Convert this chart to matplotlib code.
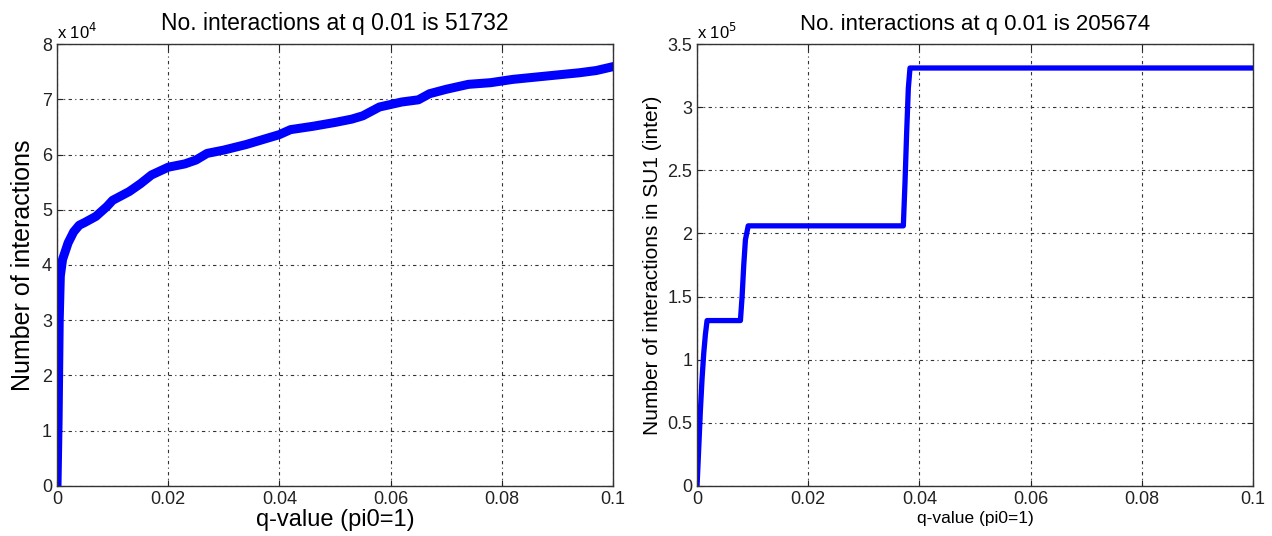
import matplotlib
matplotlib.use("Agg")
import matplotlib.pyplot as plt
from matplotlib.ticker import FuncFormatter

plt.rcParams['font.family'] = ['Liberation Sans', 'DejaVu Sans']

# left panel: cumulative interactions vs q-value
q_left = [0.0, 0.0002, 0.0004, 0.0006, 0.001, 0.002, 0.003, 0.004, 0.005,
          0.007, 0.009, 0.010, 0.013, 0.015, 0.017, 0.020, 0.023, 0.025,
          0.027, 0.030, 0.034, 0.038, 0.040, 0.042, 0.046, 0.050, 0.053,
          0.055, 0.058, 0.062, 0.065, 0.067, 0.070, 0.074, 0.078, 0.082,
          0.086, 0.090, 0.094, 0.097, 0.100]
n_left = [0, 12000, 30000, 38000, 41000, 44000, 46000, 47200, 47700,
          48800, 50600, 51700, 53300, 54700, 56300, 57700, 58300, 59000,
          60200, 60800, 61800, 63000, 63600, 64500, 65100, 65800, 66400,
          67000, 68600, 69500, 69900, 71000, 71800, 72700, 73000, 73600,
          74000, 74400, 74800, 75200, 75900]

# right panel: interactions in SU1 (inter)
q_right = [0.0, 0.0003, 0.0006, 0.0009, 0.0012, 0.0015, 0.0018, 0.0078,
           0.0081, 0.0084, 0.0087, 0.0092, 0.0371, 0.0374, 0.0377, 0.0380,
           0.0383, 0.100]
n_right = [0, 30000, 60000, 85000, 105000, 120000, 131000, 131000,
           150000, 175000, 195000, 206000, 206000, 240000, 280000, 315000,
           331000, 331000]

fig = plt.figure(figsize=(12.72, 5.36), dpi=100)
ax1 = fig.add_axes([0.0448, 0.0933, 0.4371, 0.8246])
ax2 = fig.add_axes([0.548, 0.0933, 0.4371, 0.8246])

grid_style = dict(color='#333333', linestyle=(0, (3, 3, 1, 3)), linewidth=0.8)


def style_axis(ax, ymax, ystep, scale, expo, ticksize):
    ax.set_xlim(0, 0.1)
    ax.set_ylim(0, ymax)
    ax.set_xticks([0, 0.02, 0.04, 0.06, 0.08, 0.1])
    ax.set_xticklabels(['0', '0.02', '0.04', '0.06', '0.08', '0.1'])
    yt = [i * ystep for i in range(int(round(ymax / ystep)) + 1)]
    ax.set_yticks(yt)
    ax.yaxis.set_major_formatter(FuncFormatter(lambda v, p: ('%g' % (v / scale))))
    ax.tick_params(direction='in', length=4, width=0.8, top=True, right=True,
                   labelsize=ticksize, colors='#222222')
    ax.grid(True, **grid_style)
    for s in ax.spines.values():
        s.set_color('#333333')
        s.set_linewidth(1.0)
    ax.text(0.0, 1.005, r'x 10$^{%d}$' % expo, transform=ax.transAxes,
            fontsize=ticksize - 1, ha='left', va='bottom')


ax1.plot(q_left, n_left, color='#0000ff', linewidth=6.5, solid_joinstyle='round')
style_axis(ax1, 80000, 10000, 1e4, 4, 13)
ax1.set_title('No. interactions at q 0.01 is 51732', fontsize=16.5, pad=10)
ax1.set_xlabel('q-value (pi0=1)', fontsize=17, labelpad=1)
ax1.set_ylabel('Number of interactions', fontsize=18, labelpad=5)

ax2.plot(q_right, n_right, color='#0000ff', linewidth=3.8)
style_axis(ax2, 350000, 50000, 1e5, 5, 13)
ax2.set_title('No. interactions at q 0.01 is 205674', fontsize=16, pad=10)
ax2.set_xlabel('q-value (pi0=1)', fontsize=12.5, labelpad=2)
ax2.set_ylabel('Number of interactions in SU1 (inter)', fontsize=15, labelpad=4)

fig.savefig('out.png', dpi=100)
